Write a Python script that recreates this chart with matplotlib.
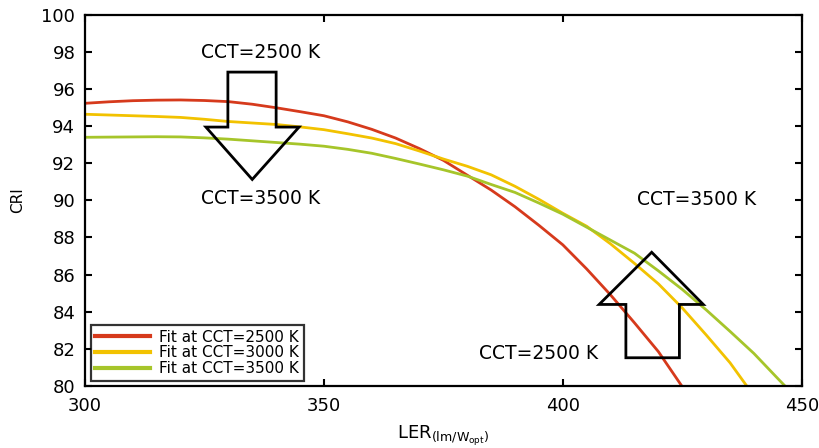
import matplotlib
matplotlib.use("Agg")
import matplotlib.pyplot as plt
from matplotlib.patches import Polygon

plt.rcParams['font.family'] = ['DejaVu Sans']

# fitted CRI vs LER
ler_2500 = [300, 305, 310, 315, 320, 325, 330, 335, 340, 345, 350, 355, 360,
            365, 370, 375, 380, 385, 390, 395, 400, 405, 410, 415, 420, 424.9]
cri_2500 = [95.22, 95.30, 95.36, 95.39, 95.40, 95.37, 95.31, 95.17, 94.98, 94.77,
            94.55, 94.22, 93.82, 93.35, 92.78, 92.15, 91.35, 90.55, 89.65, 88.65,
            87.60, 86.30, 84.90, 83.40, 81.85, 80.0]

ler_3000 = [300, 305, 310, 315, 320, 325, 330, 335, 340, 345, 350, 355, 360,
            365, 370, 375, 380, 385, 390, 395, 400, 405, 410, 415, 420, 425,
            430, 435, 438.5]
cri_3000 = [94.63, 94.59, 94.55, 94.51, 94.46, 94.36, 94.24, 94.16, 94.08, 93.95,
            93.80, 93.58, 93.35, 93.05, 92.65, 92.22, 91.83, 91.37, 90.75, 90.05,
            89.30, 88.60, 87.65, 86.60, 85.50, 84.20, 82.75, 81.25, 80.0]

ler_3500 = [300, 305, 310, 315, 320, 325, 330, 335, 340, 345, 350, 355, 360,
            365, 370, 375, 380, 385, 390, 395, 400, 405, 410, 415, 420, 425,
            430, 435, 440, 445, 446.5]
cri_3500 = [93.39, 93.40, 93.41, 93.42, 93.41, 93.36, 93.29, 93.20, 93.11, 93.02,
            92.91, 92.74, 92.53, 92.25, 91.95, 91.64, 91.30, 90.85, 90.42, 89.85,
            89.25, 88.55, 87.85, 87.15, 86.20, 85.20, 84.10, 82.94, 81.75, 80.40, 80.0]

labels = ['Fit at CCT=2500 K', 'Fit at CCT=3000 K', 'Fit at CCT=3500 K']
colors = ['#d63a1c', '#f2c200', '#a6c52a']

fig = plt.figure(figsize=(8.19, 4.48), dpi=100)
ax = fig.add_axes([0.1038, 0.1384, 0.8751, 0.8292])

ax.plot(ler_2500, cri_2500, color=colors[0], lw=2, label=labels[0])
ax.plot(ler_3000, cri_3000, color=colors[1], lw=2, label=labels[1])
ax.plot(ler_3500, cri_3500, color=colors[2], lw=2, label=labels[2])

# hollow block arrows
down_arrow = [(329.9, 96.9), (340.0, 96.9), (340.0, 93.94), (344.8, 93.94),
              (335.0, 91.12), (325.3, 93.94), (329.9, 93.94)]
up_arrow = [(413.2, 81.52), (424.4, 81.52), (424.4, 84.39), (429.4, 84.39),
            (418.6, 87.20), (407.6, 84.39), (413.2, 84.39)]
for pts in (down_arrow, up_arrow):
    ax.add_patch(Polygon(pts, closed=True, fill=False, edgecolor='black',
                         lw=2, joinstyle='miter', zorder=5))

ax.text(336.7, 97.93, 'CCT=2500 K', fontsize=13.5, ha='center', va='center')
ax.text(336.7, 90.09, 'CCT=3500 K', fontsize=13.5, ha='center', va='center')
ax.text(428.0, 90.04, 'CCT=3500 K', fontsize=13.5, ha='center', va='center')
ax.text(394.9, 81.75, 'CCT=2500 K', fontsize=13.5, ha='center', va='center')

ax.set_xlim(300, 450)
ax.set_ylim(80, 100)
ax.set_xticks([300, 350, 400, 450])
ax.set_yticks(range(80, 101, 2))
ax.tick_params(direction='in', top=True, right=True, length=5, width=1.5,
               labelsize=13)
ax.tick_params(axis='x', pad=8)
ax.tick_params(axis='y', pad=7)
for s in ax.spines.values():
    s.set_linewidth(1.6)

ax.set_ylabel('CRI', fontsize=11, labelpad=12)
ax.set_xlabel(r'LER$_{\mathregular{(lm/W_{opt})}}$', fontsize=13, labelpad=6)

leg = ax.legend(loc='lower left', bbox_to_anchor=(0.008, 0.014), fontsize=11,
                frameon=True, fancybox=False, edgecolor='black',
                handlelength=3.6, labelspacing=0.05, borderpad=0.3,
                handletextpad=0.6, borderaxespad=0)
leg.get_frame().set_linewidth(1.6)
for line in leg.get_lines():
    line.set_linewidth(3)

fig.savefig('out.png', dpi=100)
